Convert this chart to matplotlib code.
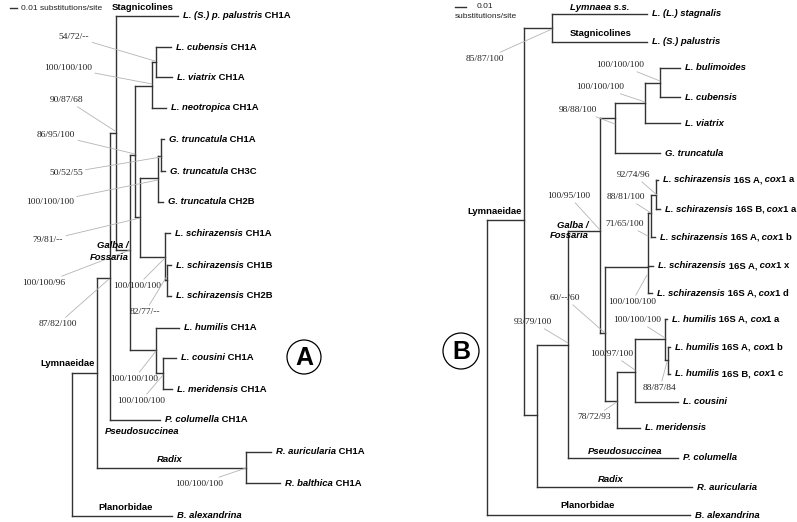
import matplotlib
matplotlib.use('Agg')
import matplotlib.pyplot as plt
from matplotlib.patches import Circle

SANS = 'Liberation Sans'
SERIF = 'Liberation Serif'
LINE = '#333333'
LEADER = '#b4b4b4'
FS = 6.8

# ---------------- panel A (haplotype tree) ----------------
# node name, parent, depth (x), row (y), tip label (*...* = italic)
A_NODE = ['root', 'lym', 'balex', 'n110', 'rad', 'raur', 'rbal', 'n116', 'pcol',
          'pal', 'n130', 'n135', 'n156', 'n152', 'n140', 'n154', 'neo', 'cub',
          'via', 'n158', 'n166', 'n161', 't2b', 't1a', 't3c', 's1a', 'n167',
          's1b', 's2b', 'hum', 'n163', 'cou', 'mer']
A_PARENT = [None, 'root', 'root', 'lym', 'lym', 'rad', 'rad', 'n110', 'n110',
            'n116', 'n116', 'n130', 'n130', 'n135', 'n135', 'n152', 'n152', 'n154',
            'n154', 'n140', 'n140', 'n158', 'n158', 'n161', 'n161', 'n166', 'n166',
            'n167', 'n167', 'n156', 'n156', 'n163', 'n163']
A_X = [72, 97, 172, 110, 246, 271, 280, 116, 160,
       178, 130, 135, 156, 152, 140, 156, 166, 171,
       172, 158, 165, 161, 163, 164, 165, 170, 167,
       171, 171, 179, 163, 176, 172]
A_Y = [445, 373, 516, 278, 468, 452, 483, 133, 420,
       16, 250, 155, 350, 86, 217, 62, 108, 47,
       77, 178, 257, 156, 202, 139, 171, 233, 280,
       265, 296, 328, 373, 358, 389]
A_LABEL = ['', '', '*B. alexandrina*', '', '', '*R. auricularia* CH1A',
           '*R. balthica* CH1A', '', '*P. columella* CH1A',
           '*L. (S.) p. palustris* CH1A', '', '', '', '', '', '',
           '*L. neotropica* CH1A', '*L. cubensis* CH1A', '*L. viatrix* CH1A',
           '', '', '', '*G. truncatula* CH2B', '*G. truncatula* CH1A',
           '*G. truncatula* CH3C', '*L. schirazensis* CH1A', '',
           '*L. schirazensis* CH1B', '*L. schirazensis* CH2B',
           '*L. humilis* CH1A', '', '*L. cousini* CH1A', '*L. meridensis* CH1A']

A_SUPPORT = ['54/72/--', '100/100/100', '90/87/68', '86/95/100', '50/52/55',
             '100/100/100', '79/81/--', '100/100/96', '87/82/100', '100/100/100',
             '82/77/--', '100/100/100', '100/100/100', '100/100/100']
A_SUP_TXT = [(74, 37), (68, 68), (67, 100), (56, 135), (66, 173), (50, 202),
             (48, 240), (44, 283), (58, 324), (137, 286), (145, 312), (134, 379),
             (141, 401), (199, 484)]
A_SUP_END = [(155, 61), (152, 84), (115, 131), (135, 154), (161, 157), (158, 180),
             (140, 218), (130, 250), (109, 279), (165, 258), (167, 276), (156, 351),
             (163, 375), (246, 468)]

A_GROUPS = ['Stagnicolines', '*Galba /*', '*Fossaria*', 'Lymnaeidae',
            '*Pseudosuccinea*', '*Radix*', 'Planorbidae']
A_GROUP_POS = [(112, 7, 'left'), (129, 245, 'right'), (129, 257, 'right'),
               (40, 364, 'left'), (105, 432, 'left'), (157, 460, 'left'),
               (98, 507, 'left')]

# ---------------- panel B (16S + cox1 tree) ----------------
B_NODE = ['root', 'lym', 'balex', 'top', 'stag', 'pal', 'n537', 'n568', 'raur',
          'n600', 'pcol', 'n615', 'n605', 'n645', 'tru', 'n660', 'via', 'bul',
          'cub', 'n648', 'n617', 'n651', 'sx', 'sd', 'n656', 'sb', 'sa', 'sBa',
          'n635', 'mer', 'n665', 'cou', 'ha', 'n668', 'hb', 'hc']
B_PARENT = [None, 'root', 'root', 'lym', 'top', 'top', 'lym', 'n537', 'n537',
            'n568', 'n568', 'n600', 'n600', 'n615', 'n615', 'n645', 'n645', 'n660',
            'n660', 'n605', 'n605', 'n648', 'n648', 'n648', 'n651', 'n651', 'n656', 'n656',
            'n617', 'n617', 'n635', 'n635', 'n665', 'n665', 'n668', 'n668']
B_X = [487, 524, 690, 552, 647, 647, 537, 568, 692,
       600, 678, 615, 605, 645, 660, 660, 680, 680,
       680, 648, 617, 651, 653, 652, 656, 655, 658, 660,
       635, 640, 665, 678, 667, 668, 670, 670]
B_Y = [370, 220, 515, 28, 14, 42, 415, 345, 487,
       231, 458, 118, 333, 103, 153, 83, 123, 68,
       97, 267, 401, 213, 266, 293, 195, 237, 180, 209,
       372, 428, 339, 402, 319, 360, 347, 374]
B_LABEL = ['', '', '*B. alexandrina*', '', '*L. (L.) stagnalis*', '*L. (S.) palustris*',
           '', '', '*R. auricularia*', '', '*P. columella*', '', '', '',
           '*G. truncatula*', '', '*L. viatrix*', '*L. bulimoides*', '*L. cubensis*',
           '', '', '', '*L. schirazensis* 16S A,* cox*1 x',
           '*L. schirazensis* 16S A,* cox*1 d', '',
           '*L. schirazensis* 16S A,* cox*1 b', '*L. schirazensis* 16S A,* cox*1 a',
           '*L. schirazensis* 16S B,* cox*1 a', '', '*L. meridensis*', '',
           '*L. cousini*', '*L. humilis* 16S A,* cox*1 a', '',
           '*L. humilis* 16S A,* cox*1 b', '*L. humilis* 16S B,* cox*1 c']

B_SUPPORT = ['85/87/100', '100/100/100', '100/100/100', '98/88/100', '92/74/96',
             '88/81/100', '71/65/100', '100/95/100', '60/--/60', '100/100/100',
             '100/100/100', '93/79/100', '100/97/100', '88/87/84', '78/72/93']
B_SUP_TXT = [(485, 59), (620, 65), (600, 87), (578, 110), (634, 175), (626, 197),
             (625, 224), (569, 196), (565, 298), (632, 302), (637, 320), (533, 322),
             (612, 354), (660, 388), (594, 417)]
B_SUP_END = [(552, 29), (660, 81), (645, 102), (615, 124), (657, 195), (651, 213),
             (648, 236), (600, 230), (605, 333), (647, 275), (665, 338), (568, 343),
             (635, 370), (667, 362), (617, 402)]

B_GROUPS = ['*Lymnaea s.s.*', 'Stagnicolines', 'Lymnaeidae', '*Galba /*', '*Fossaria*',
            '*Pseudosuccinea*', '*Radix*', 'Planorbidae']
B_GROUP_POS = [(570, 7, 'left'), (570, 34, 'left'), (467, 212, 'left'),
               (589, 225, 'right'), (589, 236, 'right'), (588, 451, 'left'),
               (598, 479, 'left'), (560, 506, 'left')]


def rich(ax, x, y, markup, size=FS):
    """Bold label where *...* parts are italic; pieces chained left to right."""
    prev = None
    for i, part in enumerate(markup.split('*')):
        if not part:
            continue
        style = 'italic' if i % 2 else 'normal'
        if prev is None:
            prev = ax.text(x, y, part, ha='left', va='center', fontsize=size,
                           family=SANS, weight='bold', fontstyle=style)
        else:
            prev = ax.annotate(part, xy=(1, 0), xycoords=prev, ha='left',
                               va='bottom', fontsize=size, family=SANS,
                               weight='bold', fontstyle=style)


def draw_tree(ax, nodes, parents, xs, ys, labels):
    pos = {n: (x, y) for n, x, y in zip(nodes, xs, ys)}
    for n, p, x, y, lab in zip(nodes, parents, xs, ys, labels):
        kids = [pos[m][1] for m, q in zip(nodes, parents) if q == n]
        if kids:
            span = kids + ([y] if p else [])
            ax.plot([x, x], [min(span), max(span)], color=LINE, lw=1.0,
                    solid_capstyle='projecting')
        if p:
            ax.plot([pos[p][0], x], [y, y], color=LINE, lw=1.0,
                    solid_capstyle='projecting')
        if lab:
            rich(ax, x + 5, y, lab)


def draw_support(ax, texts, txt_xy, ends):
    for t, (tx, ty), end in zip(texts, txt_xy, ends):
        ax.annotate(t, xy=end, xytext=(tx, ty), ha='center', va='center',
                    fontsize=FS, family=SERIF, color='#222222',
                    arrowprops=dict(arrowstyle='-', color=LEADER, lw=0.6,
                                    shrinkA=0, shrinkB=0))


def draw_groups(ax, names, layout):
    for name, (x, y, ha) in zip(names, layout):
        if ha == 'right':
            ax.text(x, y, name.strip('*'), ha='right', va='center', fontsize=FS,
                    family=SANS, weight='bold',
                    fontstyle='italic' if name.startswith('*') else 'normal')
        else:
            rich(ax, x, y, name)


fig = plt.figure(figsize=(7.97, 5.22), dpi=100)
ax = fig.add_axes([0, 0, 1, 1])
ax.set_xlim(0, 797)
ax.set_ylim(522, 0)
ax.axis('off')

draw_tree(ax, A_NODE, A_PARENT, A_X, A_Y, A_LABEL)
draw_tree(ax, B_NODE, B_PARENT, B_X, B_Y, B_LABEL)
draw_support(ax, A_SUPPORT, A_SUP_TXT, A_SUP_END)
draw_support(ax, B_SUPPORT, B_SUP_TXT, B_SUP_END)
draw_groups(ax, A_GROUPS, A_GROUP_POS)
draw_groups(ax, B_GROUPS, B_GROUP_POS)

# scale bars
ax.plot([10, 17], [8, 8], color=LINE, lw=1.0)
ax.text(21, 8, '0.01 substitutions/site', ha='left', va='center', fontsize=6,
        family=SANS, color='#222222')
ax.plot([455, 466], [7, 7], color=LINE, lw=1.0)
ax.text(477, 7, '0.01', ha='left', va='center', fontsize=6, family=SANS,
        color='#222222')
ax.text(455, 17, 'substitutions/site', ha='left', va='center', fontsize=6,
        family=SANS, color='#222222')

# panel letters
for letter, cx, cy, r in [('A', 304, 357, 17), ('B', 461, 351, 18)]:
    ax.add_patch(Circle((cx, cy), r, fill=False, ec='black', lw=0.9))
    ax.text(cx, cy + 1, letter, ha='center', va='center', fontsize=18,
            family=SANS, weight='bold')

fig.savefig('out.png', dpi=100)
